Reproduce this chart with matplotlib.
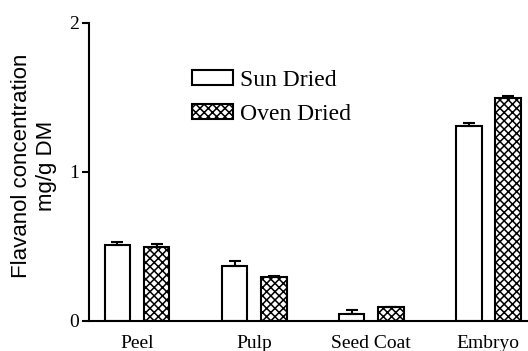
import numpy as np
import matplotlib
matplotlib.use('Agg')
import matplotlib.pyplot as plt

categories = ['Peel', 'Pulp', 'Seed Coat', 'Embryo']
sun_dried = [0.51, 0.37, 0.047, 1.31]
sun_err = [0.02, 0.03, 0.027, 0.02]
oven_dried = [0.497, 0.295, 0.094, 1.497]
oven_err = [0.02, 0.005, 0.0, 0.01]

plt.rcParams['hatch.linewidth'] = 1.1

fig = plt.figure(figsize=(5.28, 3.51), dpi=100)
ax = fig.add_axes([0.1686, 0.0855, 0.8314, 0.849])

x = np.arange(len(categories))
w = 0.22
off = 0.167
ekw = dict(elinewidth=1.5, capthick=1.5)
ax.bar(x - off, sun_dried, w, color='white', edgecolor='black', linewidth=1.5,
       yerr=[np.zeros(4), sun_err], capsize=4.5, error_kw=ekw, label='Sun Dried')
ax.bar(x + off, oven_dried, w, color='white', edgecolor='black', linewidth=1.5,
       hatch='xxxx', yerr=[np.zeros(4), oven_err], capsize=4.5, error_kw=ekw,
       label='Oven Dried')

ax.set_xlim(-0.41, 3.34)
ax.set_ylim(0, 2)
ax.set_yticks([0, 1, 2])
ax.set_xticks(x)
ax.set_xticklabels(categories, family='Liberation Serif', fontsize=14)
for t in ax.get_yticklabels():
    t.set_family('Liberation Serif')
    t.set_fontsize(14)
ax.tick_params(axis='x', length=0, pad=10)
ax.tick_params(axis='y', length=5, width=1.5, pad=2)

for s in ['top', 'right']:
    ax.spines[s].set_visible(False)
for s in ['left', 'bottom']:
    ax.spines[s].set_linewidth(1.5)

ax.set_ylabel('Flavanol concentration\nmg/g DM', family='Liberation Sans',
              fontsize=16, linespacing=1.25)
ax.yaxis.set_label_coords(-0.073, 0.52)

leg = ax.legend(loc='upper left', bbox_to_anchor=(192 / 528, 1 - 70 / 351),
                bbox_transform=fig.transFigure, frameon=False,
                prop={'family': 'Liberation Serif', 'size': 17},
                handlelength=1.75, handleheight=0.6, handletextpad=0.3,
                labelspacing=0.55, borderpad=0, borderaxespad=0)

fig.savefig('out.png', dpi=100)
